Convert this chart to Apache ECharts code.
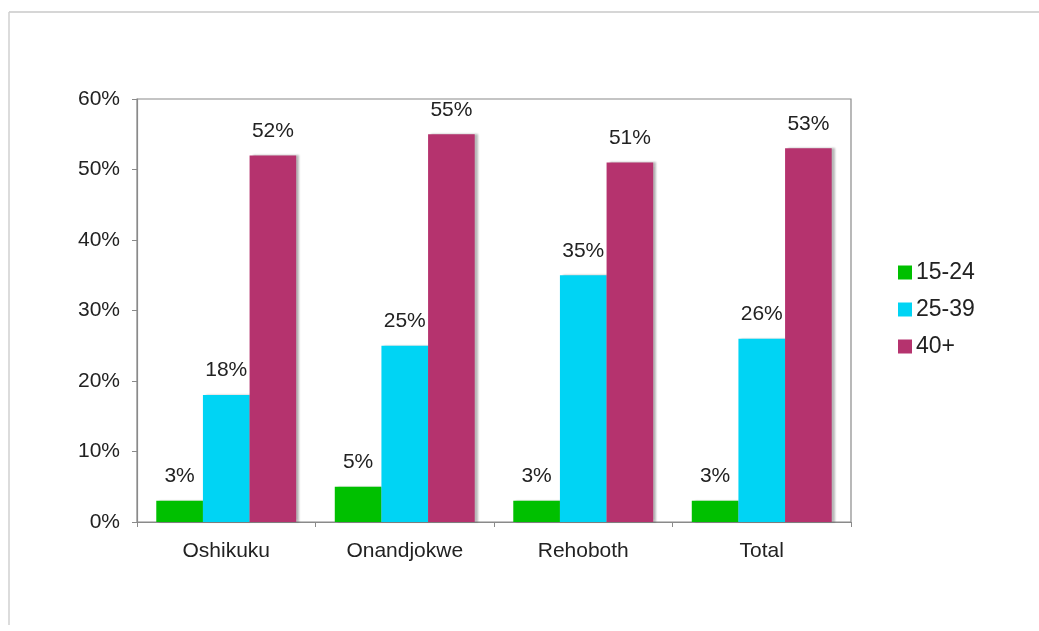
<!DOCTYPE html>
<html>
<head>
<meta charset="utf-8">
<script src="https://cdn.jsdelivr.net/npm/echarts@6/dist/echarts.min.js"></script>
<style>
  html, body { margin: 0; padding: 0; background: #ffffff; }
  #chart { width: 1039px; height: 631px; }
</style>
</head>
<body>
<div id="chart"></div>
<script>
// Share of respondents by age group, per site (percent)
const categories = ['Oshikuku', 'Onandjokwe', 'Rehoboth', 'Total'];
const seriesNames = ['15-24', '25-39', '40+'];
const age15to24 = [3, 5, 3, 3];
const age25to39 = [18, 25, 35, 26];
const age40plus = [52, 55, 51, 53];
const yTicks = [0, 10, 20, 30, 40, 50, 60];

const colors = ['#00c000', '#00d4f4', '#b5336e'];
const font = 'Liberation Sans, Arial, sans-serif';

function barSeries(name, values, color) {
  return {
    name: name,
    type: 'bar',
    data: values,
    barGap: '0%',
    barCategoryGap: '21.6%',
    itemStyle: {
      color: color,
      shadowColor: 'rgba(0,0,0,0.28)',
      shadowOffsetX: 3,
      shadowOffsetY: 0,
      shadowBlur: 2
    },
    label: {
      show: true,
      position: 'top',
      distance: 14,
      formatter: '{c}%',
      color: '#222',
      fontSize: 21,
      fontFamily: font
    }
  };
}

const chart = echarts.init(document.getElementById('chart'), null, { renderer: 'canvas' });
chart.setOption({
  animation: false,
  backgroundColor: '#ffffff',
  color: colors,
  graphic: [
    { type: 'line', shape: { x1: 9, y1: 12, x2: 1039, y2: 12 }, style: { stroke: '#c8c8c8', lineWidth: 1.5 } },
    { type: 'line', shape: { x1: 9, y1: 12, x2: 9, y2: 625 }, style: { stroke: '#d0d0d0', lineWidth: 1.5 } }
  ],
  grid: {
    left: 137, right: 188, top: 99, bottom: 109,
    show: true, borderColor: '#8a8a8a', borderWidth: 1.2, backgroundColor: 'transparent'
  },
  legend: {
    orient: 'vertical',
    left: 893, top: 256,
    itemWidth: 14, itemHeight: 14, itemGap: 14,
    icon: 'rect',
    data: seriesNames,
    textStyle: { fontSize: 23, fontFamily: font, color: '#222', padding: [0, 0, 0, -1] }
  },
  xAxis: {
    type: 'category',
    data: categories,
    axisLine: { lineStyle: { color: '#8a8a8a', width: 1.2 } },
    axisTick: { show: true, length: 5, alignWithLabel: false, lineStyle: { color: '#8a8a8a' } },
    axisLabel: { margin: 19, fontSize: 21, fontFamily: font, color: '#222' }
  },
  yAxis: {
    type: 'value',
    min: yTicks[0], max: yTicks[yTicks.length - 1], interval: 10,
    splitLine: { show: false },
    axisLine: { show: true, lineStyle: { color: '#8a8a8a', width: 1.2 } },
    axisTick: { show: true, length: 5, lineStyle: { color: '#8a8a8a' } },
    axisLabel: { margin: 17, fontSize: 21, fontFamily: font, color: '#222', formatter: '{value}%' }
  },
  series: [
    barSeries(seriesNames[0], age15to24, colors[0]),
    barSeries(seriesNames[1], age25to39, colors[1]),
    barSeries(seriesNames[2], age40plus, colors[2])
  ]
});
</script>
</body>
</html>
